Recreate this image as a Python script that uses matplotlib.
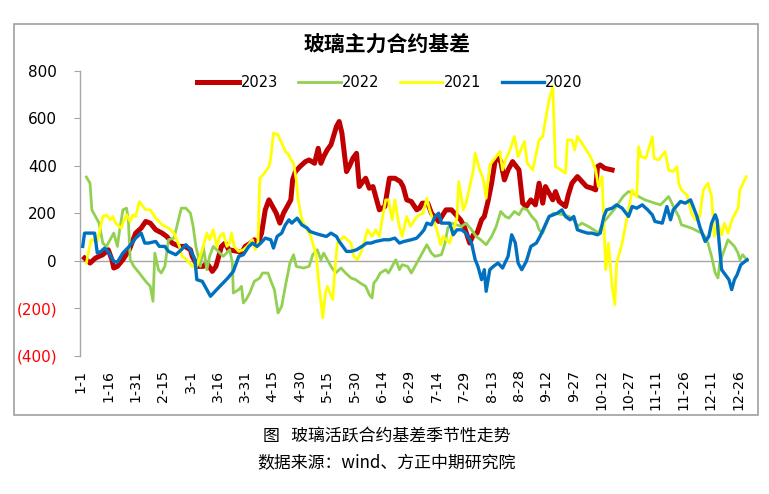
import numpy as np
import matplotlib.pyplot as plt
from matplotlib.patches import Rectangle

# day of year (0 = 1-1, leap-year calendar) and basis values
d23 = [2, 5, 8, 12, 15, 17, 18, 20, 23, 26.5, 30, 33, 35.5, 38, 41, 44.5, 47, 50, 54, 57, 60,
       61, 64, 67, 69, 72, 74, 77, 79, 81, 86, 88, 90, 93, 95, 97, 99, 101, 103, 105, 107, 109, 111,
       115, 116, 117.5, 120, 123, 125, 128, 130, 131.5, 133, 135, 137, 140, 141.5, 143, 145.5, 147,
       149, 151, 152.5, 154.5, 156, 158, 160, 161.5, 163.5, 166.5, 169, 172, 175, 176.5, 178.5, 181,
       184, 185.5, 187, 190, 192, 196, 200, 203, 208, 210, 213, 215, 217, 219.5, 221, 223, 225, 227,
       228.5, 230, 232, 234, 236.5, 240, 242, 244, 246.5, 249, 251, 253, 254.5, 258.5, 260, 262,
       265.5, 267, 269, 272, 274.5, 277, 280, 282, 283, 284.5, 287, 291]
v23 = [11, -10, 11, 25, 46, 4, -31, -24, 4, 46, 116, 137, 165, 158, 130, 116, 102, 74, 60, 60, 46,
       18, -24, -24, -10, -45, -24, 60, 74, 46, 39, 32, 60, 74, 88, 74, 116, 214, 256, 228, 200, 158, 200,
       256, 340, 375, 396, 417, 424, 410, 473, 410, 438, 467, 488, 565, 586, 537, 375, 396,
       431, 452, 312, 333, 347, 305, 312, 270, 214, 228, 347, 347, 333, 312, 256, 249,
       214, 221, 242, 242, 200, 165, 214, 214, 172, 144, 74, 109, 116, 172, 186, 249, 326, 424,
       431, 417, 340, 382, 417, 382, 242, 228, 256, 235, 326, 242, 312, 256, 291, 249,
       228, 277, 326, 354, 333, 312, 305, 298, 396, 403, 389, 382]

d22 = [3, 5, 6, 8, 10, 12, 14, 18, 20, 21, 23, 25, 26, 27, 29, 32, 35.5, 38, 39.5, 40.5, 42.5, 44,
       46, 48, 51, 55, 57.5, 60, 61.5, 63, 65.5, 67, 69, 70.5, 72.5, 78, 81.5, 83, 83.5, 86.5, 88,
       89, 90.5, 92.5, 95, 98, 99.5, 102.5, 104.5, 106, 108, 110, 112, 114.5, 116.5, 118, 122, 125,
       127, 129.5, 131.5, 133, 137, 139.5, 142.5, 145, 148, 150.5, 153, 156, 158, 159.5, 160.5, 162,
       164, 167, 168.5, 170.5, 172.5, 174.5, 176, 179, 181, 184, 186, 187.5, 189.5, 192, 194, 197.5,
       199.5, 201, 203, 208.5, 211, 214, 216.5, 219, 222, 225, 227.5, 230, 232.5, 234.5, 237.5, 240,
       242, 244.5, 247, 249.5, 251, 253, 256.5, 259, 264.5, 267.5, 270, 272, 274.5, 278, 281, 283.5,
       286, 289, 292, 294.5, 297, 300, 302.5, 305.5, 309, 314.5, 317.5, 322, 325.5, 327.5, 329,
       334.5, 340, 342, 343.5, 345.5, 347.5, 349, 350, 352.5, 354.5, 358, 360, 361, 362.5, 364]
v22 = [352, 326, 214, 186, 158, 74, 60, 116, 60, 116, 214, 221, 172, 4, -24, -52, -87, -108, -171, 32, -38, -52,
       -24, 88, 95, 221, 221, 200, 144, 60, -24, 60, -38, 18, 60, 18, 46, -10, -136, -122, -108,
       -178, -164, -136, -87, -73, -52, -52, -94, -122, -220, -192, -108, -10, 25, -24, -31, -24,
       25, 46, 4, 32, -24, -52, -31, -52, -73, -80, -94, -108, -143, -157, -94, -80,
       -52, -38, -52, -24, 4, -38, -17, -24, -52, -10, 18, 39, 67, 32, 18, 25,
       74, 137, 158, 144, 158, 130, 102, 88, 67, 102, 144, 207, 186, 179, 207, 193,
       221, 214, 186, 165, 130, 116, 186, 200, 193, 186, 172, 144, 158, 144, 130, 116,
       158, 186, 214, 242, 270, 291, 284, 270, 256, 242, 235, 270, 214, 186, 151,
       137, 116, 102, 74, 18, -52, -73, -10, 46, 88, 60, 32, 4, 25, 11]

d21 = [3, 5.5, 9, 12, 14, 16, 17.5, 19, 22, 25, 27, 28.5, 30, 32, 34, 35.5, 38, 41, 44.5, 48, 51, 54,
       55.5, 58, 61, 63.5, 67, 69, 70.5, 72.5, 74.5, 76, 78, 80, 81.5, 82.5, 84, 86.5, 89, 91, 94,
       95.5, 97, 98, 100.5, 103, 104, 105.5, 108, 110, 112, 114, 115, 116.5, 118, 119, 121, 126,
       129, 130.5, 132.5, 134, 135, 136.5, 138, 139, 140.5, 144, 148, 149.5, 151.5, 154, 157, 159.5,
       161.5, 163.5, 165, 167, 168.5, 170.5, 172, 174, 176, 178.5, 180.5, 184, 187.5, 189.5, 191,
       195, 197, 198.5, 202, 206, 207, 209.5, 211, 213, 215, 216, 218.5, 220.5, 222, 224, 227.5,
       229.5, 231, 233, 235, 237.5, 239.5, 243, 244.5, 247.5, 251, 253, 254.5, 256.5, 258.5, 260,
       263, 265.5, 266.5, 269, 270.5, 272, 274.5, 277.5, 280, 282, 283.5, 285.5, 287.5, 289, 291,
       292.5, 293.5, 296.5, 300, 302, 304.5, 305.5, 307, 309.5, 313, 314, 316.5, 320, 322, 324.5,
       326.5, 327.5, 329, 332, 334.5, 336.5, 339, 341, 343.5, 345.5, 347, 349, 351, 352.5, 354.5,
       357, 360, 361, 364.5]
v21 = [-10, 88, 81, 186, 193, 172, 186, 158, 137, 193, 165, 193, 186, 249, 228, 214, 214, 179, 151, 137, 116, 60,
       18, 4, -24, -24, 60, 116, 88, 130, 60, 102, 116, 60, 74, 116, 60, 39, 46, 60, 88,
       46, 74, 347, 368, 396, 431, 537, 530, 495, 460, 445, 425, 410, 340, 256, 172, 102,
       18, -108, -241, -136, -108, -136, -164, -52, 74, 102, 74, 18, 4, 46, 130, 102,
       130, 102, 172, 256, 256, 172, 256, 158, 102, 186, 144, 186, 200, 263, 214,
       130, 67, 102, 74, 179, 333, 214, 242, 312, 382, 452, 382, 340, 263, 403, 438,
       460, 382, 431, 466, 523, 438, 502, 410, 382, 508, 523, 593, 677, 733, 396,
       382, 368, 508, 508, 466, 523, 494, 459, 424, 382, 312, 354, -38, 74, -108,
       -185, -10, 74, 214, 298, 270, 480, 438, 431, 522, 431, 424, 459, 382, 375,
       396, 326, 298, 277, 200, 172, 186, 298, 326, 270, 102, 158, 109, 158, 116,
       179, 221, 298, 354]

d20 = [1, 2, 7.5, 9, 11, 13, 15.5, 18, 20, 23, 26.5, 30, 33, 35, 37, 41, 43, 46, 48, 52, 55, 57.5,
       60, 62.5, 63.5, 66.5, 69, 71, 73.5, 77, 80.5, 83.5, 86.5, 89, 92, 94, 96.5, 98.5, 101, 104,
       105.5, 107.5, 110, 112, 114, 115.5, 118.5, 121, 124, 125.5, 128, 131, 134.5, 137, 140, 141.5,
       145.5, 148, 151, 154, 156.5, 159, 161.5, 166, 169, 172, 174.5, 177, 181, 184, 186.5, 188,
       189.5, 192, 194, 196, 197.5, 202, 204, 206, 208.5, 211, 214, 216, 217.5, 219.5, 221, 222,
       224, 226, 228.5, 231, 234, 236, 238, 239.5, 241.5, 244, 246.5, 249.5, 251.5, 256.5, 261,
       263.5, 265.5, 268, 270, 272, 274.5, 277.5, 280, 283, 284.5, 286.5, 288, 291, 293.5, 296.5,
       300, 302, 304.5, 307.5, 310.5, 313, 314.5, 318.5, 321, 323, 324.5, 328.5, 331, 334, 337.5,
       339, 342, 344, 345.5, 347.5, 348.5, 350, 351, 353, 355, 356.5, 358, 359.5, 361.5, 365]
v20 = [60, 116, 116, 32, 39, 53, 32, -3, -6, 32, 60, 95, 116, 74, 74, 81, 60, 60, 39, 25, 46, 67,
       46, 4, -80, -87, -122, -150, -129, -101, -73, -45, 18, 25, 60, 74, 60, 74, 95, 88,
       53, 102, 116, 151, 172, 158, 179, 151, 137, 123, 116, 109, 102, 116, 102, 81,
       39, 39, 46, 60, 74, 74, 81, 88, 88, 95, 74, 81, 88, 95, 116, 130,
       158, 151, 186, 200, 158, 158, 109, 130, 130, 116, 74, 4, -24, -80, -38, -129,
       -38, -24, -10, -31, 18, 109, 74, -10, -38, -3, 60, 74, 102, 186, 200,
       214, 186, 172, 186, 130, 123, 116, 116, 109, 116, 186, 214, 221, 235, 221,
       186, 228, 221, 235, 214, 193, 165, 158, 228, 172, 214, 249, 242, 256, 186,
       144, 81, 102, 158, 193, 172, 46, -38, -59, -80, -122, -80, -59, -17, 4]

tick_days = [0, 15, 30, 45, 60, 75, 90, 105, 120, 135, 150, 165, 180, 195, 210, 225,
             240, 255, 270, 285, 300, 315, 330, 345, 360]
tick_labels = ['1-1', '1-16', '1-31', '2-15', '3-1', '3-16', '3-31', '4-15', '4-30', '5-15',
               '5-30', '6-14', '6-29', '7-14', '7-29', '8-13', '8-28', '9-12', '9-27', '10-12',
               '10-27', '11-11', '11-26', '12-11', '12-26']
y_ticks = [-400, -200, 0, 200, 400, 600, 800]
y_labels = ['(400)', '(200)', '0', '200', '400', '600', '800']

cjk = ['Noto Sans CJK SC', 'DejaVu Sans']

fig = plt.figure(figsize=(7.69, 4.94), dpi=100)
ax = fig.add_axes([0.104, 0.280, 0.870, 0.577])

ax.axhline(0, color='#A6A6A6', lw=1.0, zorder=1)
l23, = ax.plot(d23, v23, color='#C00000', lw=3.6, label='2023', zorder=2, solid_joinstyle='round')
l22, = ax.plot(d22, v22, color='#92D050', lw=2.0, label='2022', zorder=3, solid_joinstyle='round')
l21, = ax.plot(d21, v21, color='#FFFF00', lw=2.0, label='2021', zorder=4, solid_joinstyle='round')
l20, = ax.plot(d20, v20, color='#0070C0', lw=2.4, label='2020', zorder=5, solid_joinstyle='round')

ax.set_xlim(-0.5, 366)
ax.set_ylim(-400, 800)
for s in ['top', 'right', 'bottom']:
    ax.spines[s].set_visible(False)
ax.spines['left'].set_color('#A6A6A6')
ax.spines['left'].set_linewidth(1.0)

ax.set_xticks(tick_days)
ax.set_xticklabels(tick_labels, rotation=90, fontsize=10.2)
ax.tick_params(axis='x', length=0, pad=10)
ax.set_yticks(y_ticks)
ax.set_yticklabels(y_labels, fontsize=11)
ax.tick_params(axis='y', direction='out', length=4.5, color='#A6A6A6', pad=12)
for t, v in zip(ax.get_yticklabels(), y_ticks):
    t.set_color('red' if v < 0 else 'black')

fig.legend(handles=[l23, l22, l21, l20], labels=['2023', '2022', '2021', '2020'],
           loc='center', bbox_to_anchor=(0.507, 0.833), ncol=4, frameon=False,
           fontsize=10.5, handlelength=2.9, handletextpad=0.1, columnspacing=1.4)

fig.text(0.503, 0.911, '玻璃主力合约基差', ha='center', va='center', fontsize=15,
         fontweight='bold', family=cjk)
fig.add_artist(Rectangle((0.0182, 0.160), 0.9675, 0.7915, transform=fig.transFigure,
                         fill=False, ec='#A0A0A0', lw=1.2))

fig.text(0.503, 0.119, '图   玻璃活跃合约基差季节性走势', ha='center', va='center',
         fontsize=12.2, family=cjk)
fig.text(0.503, 0.063, '数据来源：wind、方正中期研究院', ha='center', va='center',
         fontsize=12.2, family=cjk)

fig.savefig('out.png', dpi=100)
